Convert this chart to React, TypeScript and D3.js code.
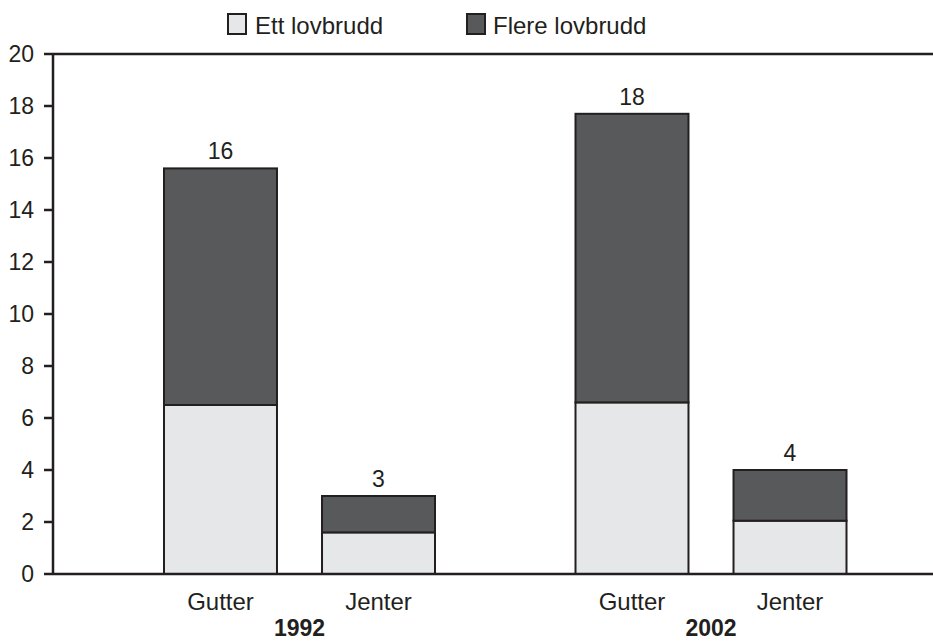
import React from "react";
import * as d3 from "d3";

const years = ["1992", "2002"];
const genders = ["Gutter", "Jenter"];
const ettLovbrudd = [6.5, 1.6, 6.6, 2.05];
const flereLovbrudd = [9.1, 1.4, 11.1, 1.95];
const totalLabels = ["16", "3", "18", "4"];
const yTicks = [0, 2, 4, 6, 8, 10, 12, 14, 16, 18, 20];
const seriesNames = ["Ett lovbrudd", "Flere lovbrudd"];

const W = 933;
const H = 642;
const LIGHT = "#e6e7e8";
const DARK = "#58595b";
const INK = "#231f20";
const FONT = "'Liberation Sans', Arial, Helvetica, sans-serif";

export default function App() {
  const x0 = 53;
  const y = d3.scaleLinear().domain([0, 20]).range([574, 54]);
  const outer = d3.scaleBand().domain(years).range([93.75, 916.75]).padding(0);
  const innerWidth = 271;
  const inner = d3
    .scaleBand()
    .domain(genders)
    .range([0, innerWidth])
    .paddingInner(0.285)
    .paddingOuter(0);

  const bars = years.flatMap((yr, gi) =>
    genders.map((g, ii) => {
      const idx = gi * genders.length + ii;
      const gc = (outer(yr) as number) + outer.bandwidth() / 2;
      const bx = gc - innerWidth / 2 + (inner(g) as number);
      return { yr, g, idx, bx, ett: ettLovbrudd[idx], flere: flereLovbrudd[idx], label: totalLabels[idx] };
    })
  );
  const bw = inner.bandwidth();

  return (
    <svg
      width={W}
      height={H}
      style={{ position: "absolute", left: 0, top: 0, background: "#fff" }}
      fontFamily={FONT}
    >
      {/* legend */}
      <g>
        <rect x={228} y={14} width={18} height={20} fill={LIGHT} stroke={INK} strokeWidth={2} />
        <text x={255} y={34} fontSize={24} fill={INK}>{seriesNames[0]}</text>
        <rect x={467} y={14} width={18} height={20} fill={DARK} stroke={INK} strokeWidth={2} />
        <text x={493} y={34} fontSize={24} fill={INK}>{seriesNames[1]}</text>
      </g>

      {/* bars */}
      {bars.map((b) => {
        const yEtt = y(b.ett);
        const yTot = y(b.ett + b.flere);
        return (
          <g key={b.idx}>
            <rect x={b.bx} y={yEtt} width={bw} height={y(0) - yEtt} fill={LIGHT} stroke={INK} strokeWidth={2} />
            <rect x={b.bx} y={yTot} width={bw} height={yEtt - yTot} fill={DARK} stroke={INK} strokeWidth={2} />
            <text x={b.bx + bw / 2} y={yTot - 9} textAnchor="middle" fontSize={23} fill={INK}>
              {b.label}
            </text>
            <text x={b.bx + bw / 2} y={610} textAnchor="middle" fontSize={24} fill={INK}>
              {b.g}
            </text>
          </g>
        );
      })}

      {/* year labels */}
      {years.map((yr) => (
        <text
          key={yr}
          x={(outer(yr) as number) + outer.bandwidth() / 2}
          y={636}
          textAnchor="middle"
          fontSize={23}
          fontWeight="bold"
          fill={INK}
        >
          {yr}
        </text>
      ))}

      {/* frame lines */}
      <line x1={x0} x2={W} y1={y(20)} y2={y(20)} stroke={INK} strokeWidth={2.5} />
      <line x1={x0} x2={W} y1={y(0)} y2={y(0)} stroke={INK} strokeWidth={2.5} />
      <line x1={x0} x2={x0} y1={y(20) - 1} y2={y(0) + 1} stroke={INK} strokeWidth={2.5} />

      {/* y ticks */}
      {yTicks.map((t) => (
        <g key={t}>
          <line x1={44} x2={x0} y1={y(t)} y2={y(t)} stroke={INK} strokeWidth={2.5} />
          <text x={34} y={y(t)} dy="0.35em" textAnchor="end" fontSize={23} fill={INK}>
            {t}
          </text>
        </g>
      ))}
    </svg>
  );
}
